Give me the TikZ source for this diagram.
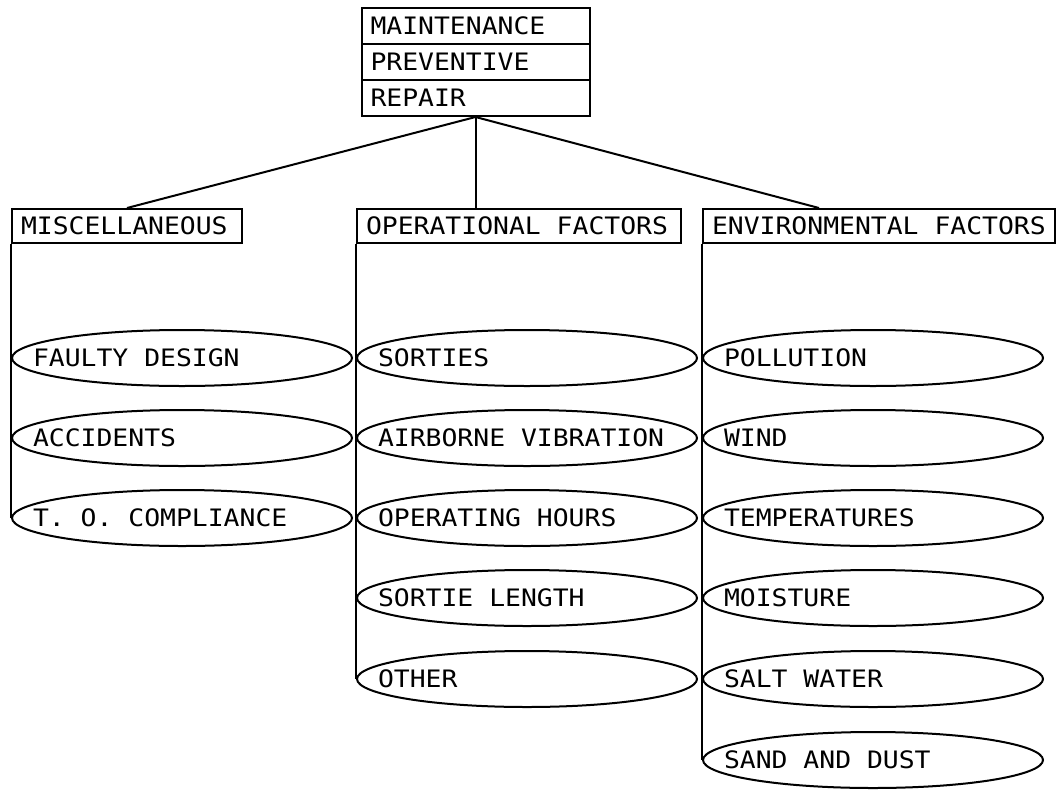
\documentclass[tikz,border=0pt]{standalone}
\usepackage{fontspec}
\newfontfamily\plotfont[FakeStretch=1.1]{DejaVu Sans Mono}
\usetikzlibrary{shapes.geometric}
\newcommand{\lefttext}[2]{\makebox[#1][l]{#2}}
\begin{document}
\begin{tikzpicture}[x=1pt, y=-1pt, line width=2pt,
  font=\plotfont\fontsize{24}{26}\selectfont,
  rowbox/.style={draw, rectangle, minimum height=36pt, inner xsep=9pt, inner ysep=0pt},
  catbox/.style={draw, rectangle, minimum height=34pt, inner xsep=9pt, inner ysep=0pt},
  itemtext/.style={anchor=west, xshift=21pt, inner sep=0pt},
  item/.style={draw, ellipse, minimum width=340pt, minimum height=56pt, inner sep=0pt,
    label={[itemtext]180:#1}}]
\useasboundingbox (0,0) rectangle (1057,790);

% head block with three stacked rows
\node[rowbox] (maint)  at (475.5,26) {\lefttext{210pt}{MAINTENANCE}};
\node[rowbox] (prev)   at (475.5,62) {\lefttext{210pt}{PREVENTIVE}};
\node[rowbox] (repair) at (475.5,98) {\lefttext{210pt}{REPAIR}};

% category headers
\node[catbox] (misc) at (127,226) {\lefttext{212pt}{MISCELLANEOUS}};
\node[catbox] (op)   at (519,226) {\lefttext{306pt}{OPERATIONAL FACTORS}};
\node[catbox] (env)  at (879,226) {\lefttext{334pt}{ENVIRONMENTAL FACTORS}};

% miscellaneous items
\node[item={FAULTY DESIGN}]    (faulty)   at (182,358) {};
\node[item={ACCIDENTS}]        (accid)    at (182,438) {};
\node[item={T. O. COMPLIANCE}] (tocomp)   at (182,518) {};

% operational items
\node[item={SORTIES}]            (sorties) at (527,358) {};
\node[item={AIRBORNE VIBRATION}] (vibr)    at (527,438) {};
\node[item={OPERATING HOURS}]    (ophours) at (527,518) {};
\node[item={SORTIE LENGTH}]      (slength) at (527,598) {};
\node[item={OTHER}]              (other)   at (527,679) {};

% environmental items
\node[item={POLLUTION}]     (pollut) at (873,358) {};
\node[item={WIND}]          (wind)   at (873,438) {};
\node[item={TEMPERATURES}]  (temps)  at (873,518) {};
\node[item={MOISTURE}]      (moist)  at (873,598) {};
\node[item={SALT WATER}]    (salt)   at (873,679) {};
\node[item={SAND AND DUST}] (sand)   at (873,760) {};

% branches from the head block
\coordinate (envjoin) at ([xshift=117pt]env.north west);
\draw (repair.south) -- (misc.north);
\draw (repair.south) -- (repair.south |- op.north);
\draw (repair.south) -- (envjoin);

% spines down each column
\draw (misc.south west) -- (tocomp.west);
\draw (op.south west) -- (other.west);
\draw (env.south west) -- (sand.west);
\end{tikzpicture}
\end{document}
